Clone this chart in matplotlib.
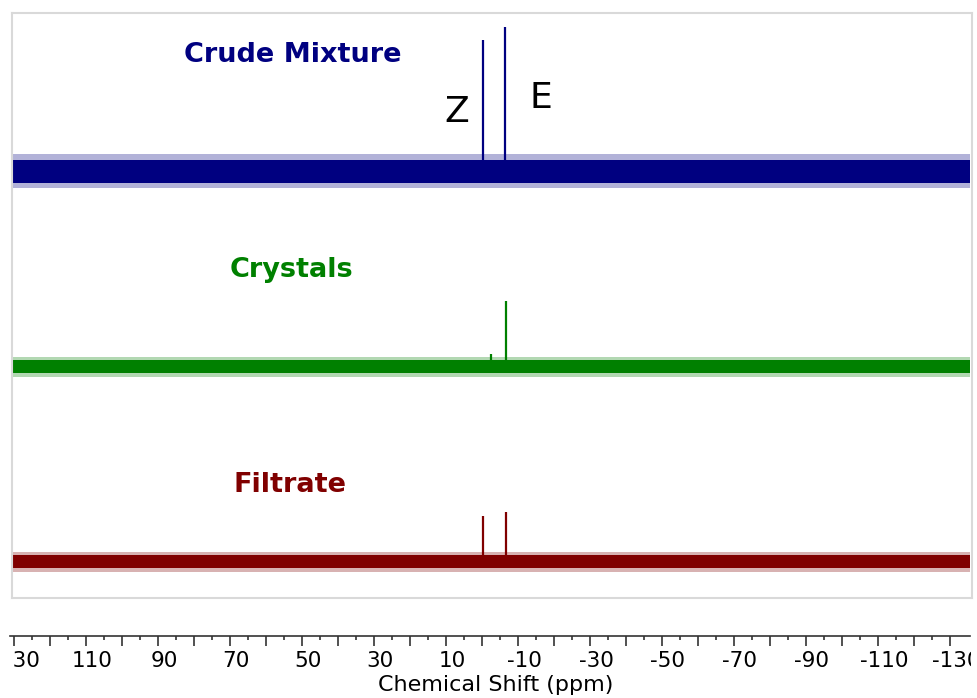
import matplotlib.pyplot as plt
import numpy as np
from matplotlib.transforms import ScaledTranslation, Bbox, TransformedBbox

# spectra (intensity in arbitrary units, ppm positions)
names = ['Crude Mixture', 'Crystals', 'Filtrate']
colors = ['#000080', '#008000', '#800000']
offsets = [427, 231.5, 36.5]
peak_ppm = [[-0.3, -6.5], [-2.5, -6.6], [-0.3, -6.6]]
peak_height = [[131, 144], [12.5, 65.5], [45.5, 49.5]]
noise_core = [11.5, 6.5, 6.5]
noise_spike = [17, 10, 10]
spec_range = [130.6, -135.6]

# axis
major_ticks = np.arange(130, -131, -10)
minor_ticks = np.arange(125, -130, -10)
label_ticks = np.arange(130, -131, -20)

# label positions (ppm, intensity)
title_pos = [(52.6, 536), (52.8, 321), (53.3, 106)]
iso_labels = ['Z', 'E']
iso_pos = [(7.0, 476), (-16.4, 490)]

fig = plt.figure(figsize=(9.78, 6.98), dpi=100)
ax = fig.add_axes([12 / 978, 100 / 698, 960 / 978, 585 / 698])
ax.set_xlim(130.56, -136.11)
ax.set_ylim(0, 585)
ax.set_xticks([])
ax.set_yticks([])
for s in ax.spines.values():
    s.set_color('#d9d9d9')
    s.set_linewidth(1.5)

for i in range(3):
    c = colors[i]
    off = offsets[i]
    # noisy baseline drawn as its envelope
    ax.fill_between(spec_range, off - noise_spike[i], off + noise_spike[i], color=c, alpha=0.3, lw=0)
    ax.fill_between(spec_range, off - noise_core[i], off + noise_core[i], color=c, lw=0)
    ax.vlines(peak_ppm[i], off, [off + h for h in peak_height[i]], color=c, lw=1.6)
    ax.text(title_pos[i][0], title_pos[i][1], names[i], color=c, fontsize=19.5,
            fontweight='bold', ha='center', va='baseline')

for lab, (px, py) in zip(iso_labels, iso_pos):
    ax.text(px, py, lab, fontsize=26, color='black', ha='center', va='baseline')

# separate ppm scale below
ax2 = fig.add_axes([10 / 978, 62 / 698, 960 / 978, 0.01])
ax2.set_xlim(131.11, -135.56)
ax2.set_yticks([])
for side in ['top', 'left', 'right']:
    ax2.spines[side].set_visible(False)
ax2.spines['bottom'].set_color('#333333')
ax2.spines['bottom'].set_linewidth(1.2)
ax2.patch.set_alpha(0)
ax2.set_xticks(major_ticks)
ax2.set_xticklabels([str(int(t)) if t in label_ticks else '' for t in major_ticks])
ax2.set_xticks(minor_ticks, minor=True)
ax2.tick_params(axis='x', which='major', length=7, width=1.2, color='#333333',
                labelsize=15.5, pad=4)
ax2.tick_params(axis='x', which='minor', length=3, width=1.2, color='#333333')
ax2.set_xlabel('Chemical Shift (ppm)', fontsize=16, labelpad=3)
ax2.xaxis.label.set_x((496 - 10) / 960)

# labels sit a little right of their ticks and are clipped at the frame
clip = TransformedBbox(Bbox.from_extents(12 / 978, 0, 971 / 978, 1), fig.transFigure)
shift = ScaledTranslation(0.06, 0, fig.dpi_scale_trans)
for lbl in ax2.get_xticklabels():
    lbl.set_transform(lbl.get_transform() + shift)
    lbl.set_clip_box(clip)
    lbl.set_clip_on(True)

fig.savefig('out.png', dpi=100)
